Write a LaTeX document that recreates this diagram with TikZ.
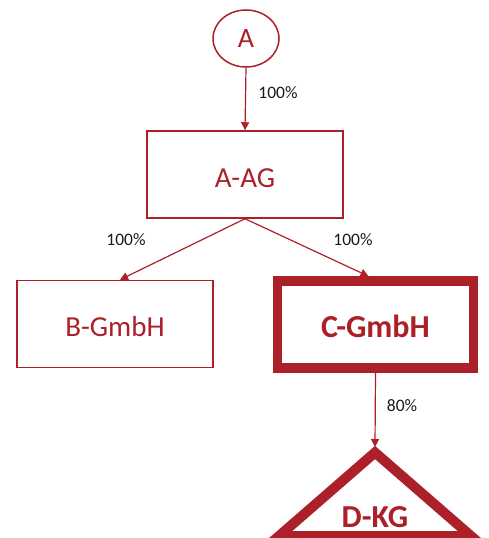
\documentclass[tikz,border=0pt]{standalone}
\usepackage{fontspec}
\setmainfont{Carlito}
\usetikzlibrary{shapes.geometric,arrows.meta}

\definecolor{brick}{RGB}{171,32,41}
\definecolor{labelink}{RGB}{26,26,26}

\tikzset{
  entity/.style={draw=brick, line width=1.5pt, text=brick, font=\fontsize{29}{32}\selectfont,
                 minimum width=196pt, minimum height=87pt, inner sep=0pt,
                 text height=25pt, text depth=0pt},
  focus/.style={draw=brick, line width=9.5pt, text=brick, font=\fontsize{32}{34}\selectfont\bfseries,
                minimum width=196pt, minimum height=87pt, inner sep=0pt,
                text height=26pt, text depth=0pt},
  owner/.style={ellipse, draw=brick, line width=1.5pt, text=brick, font=\fontsize{28}{30}\selectfont,
                minimum width=66pt, minimum height=57pt, inner sep=0pt},
  share/.style={draw=brick, line width=1.2pt, -{Triangle[length=8pt,width=8pt]}},
  pct/.style={text=labelink, font=\fontsize{17.5}{20}\selectfont, inner sep=0pt}
}

\begin{document}
\begin{tikzpicture}[x=1pt,y=-1pt]
  \useasboundingbox (0,0) rectangle (488,538);
  \clip (0,0) rectangle (488,538);

  % companies
  \node[owner]  (A)   at (246,38.5)  {A};
  \node[entity] (AAG) at (245,174.5) {A-AG};
  \node[entity] (B)   at (115,324)   {B-GmbH};
  \node[focus]  (C)   at (375.5,324.5) {C-GmbH};

  % limited partnership drawn as a heavy triangle
  \coordinate (Dl) at (279,536);
  \coordinate (Dp) at (375,452.5);
  \coordinate (Dr) at (471,536);
  \coordinate (Dtop) at (375,447);
  \draw[brick, line width=10pt, line join=miter] (Dl) -- (Dp) -- (Dr) -- cycle;
  \node[text=brick, font=\fontsize{32}{34}\selectfont\bfseries, inner sep=0pt] (D) at (375,517) {D-KG};

  % shareholdings
  \draw[share] (A.south) -- (AAG.north);
  \draw[share] (AAG.south) -- ([xshift=5pt]B.north);
  \draw[share] (AAG.south) -- ([xshift=-7pt]C.north);
  \draw[share] (C.south) -- (Dtop);

  \node[pct] (p1) at (278,93)  {100\%};
  \node[pct] (p2) at (126,240) {100\%};
  \node[pct] (p3) at (353,240) {100\%};
  \node[pct] (p4) at (402,405.5) {80\%};
\end{tikzpicture}
\end{document}
